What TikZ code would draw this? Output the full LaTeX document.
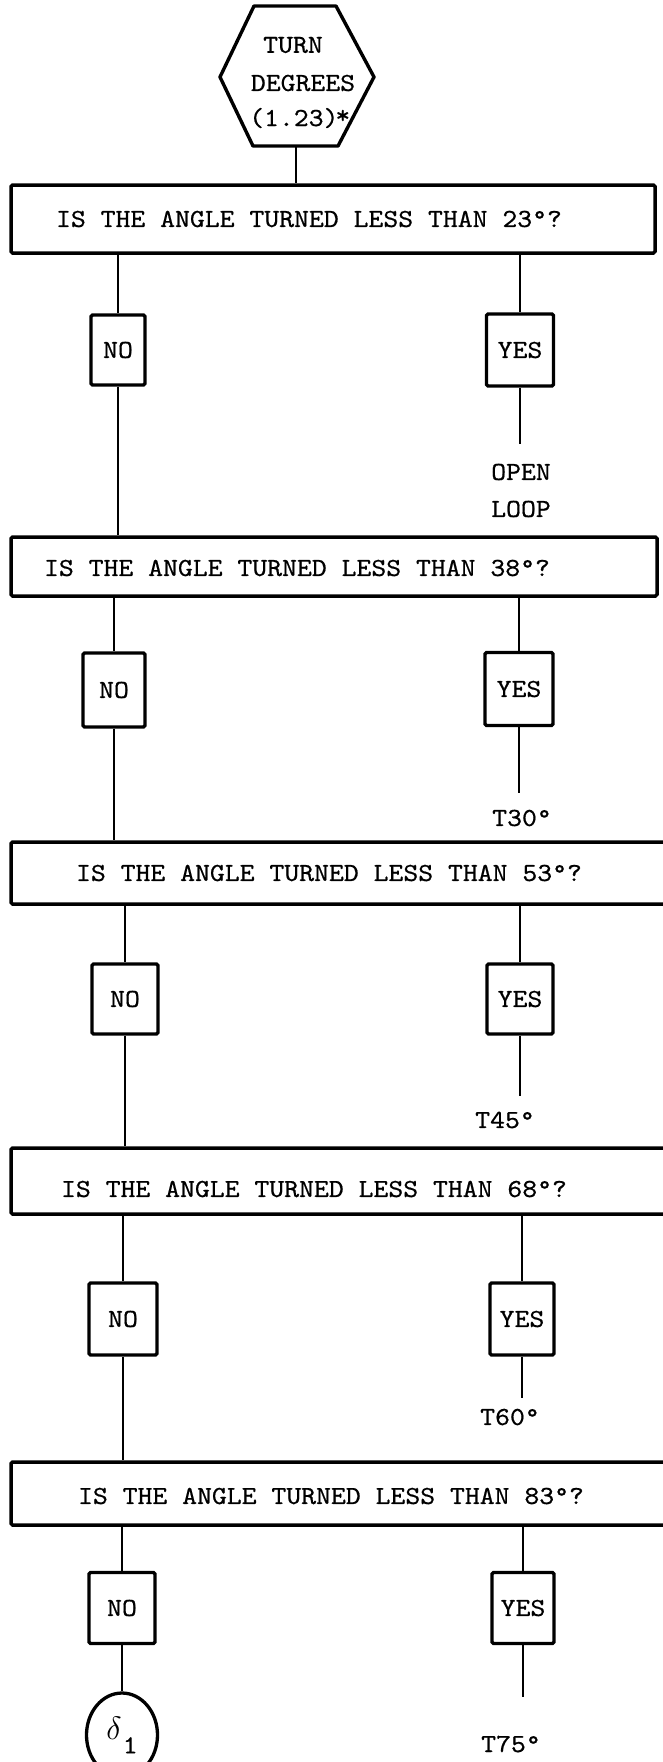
\documentclass[tikz,border=0pt]{standalone}
\usepackage{fontspec}
\usetikzlibrary{shapes.geometric}
\newfontfamily\tw{lmmono10-regular}[Extension=.otf, FakeStretch=1.09, FakeBold=0.6]
\begin{document}
\begin{tikzpicture}[x=1pt,y=-1pt,
  font=\tw\fontsize{26}{30}\selectfont,
  qbox/.style={draw, line width=3.5pt, rounded corners=1.5pt, inner sep=0pt},
  ans/.style={draw, line width=3.3pt, rounded corners=1.5pt, inner sep=0pt},
  txt/.style={inner sep=0pt},
  ln/.style={line width=2.9pt},
  hexline/.style={line width=3.4pt, line join=round}]
\useasboundingbox (0,0) rectangle (663,1762);
\clip (0,0) rectangle (663,1762);
% start hexagon
\draw[hexline] (220,77) -- (254,6) -- (336,6) -- (374,77) -- (338,146) -- (253,146) -- cycle;
\coordinate (hexb) at (296,146);
\node[txt] (h1) at (293,45) {TURN};
\node[txt] (h2) at (303,83) {DEGREES};
\node[txt, anchor=base west] (h3) at (249,126) {(1.23)\kern-0.12em\raisebox{0.1em}{*}};
% question 1
\node[qbox, minimum width=644pt, minimum height=68pt] (q1) at (333,219) {};
\node[txt] (q1t) at (309,219) {IS THE ANGLE TURNED LESS THAN 23°?};
\draw[ln] (hexb) -- (q1.north -| hexb);
\node[ans, minimum width=54pt, minimum height=70pt] (n1) at (118,350) {NO};
\node[ans, minimum width=67pt, minimum height=72pt] (y1) at (520,350) {YES};
\draw[ln] (q1.south -| n1) -- (n1.north);
\draw[ln] (q1.south -| y1) -- (y1.north);
\coordinate (e1) at (520,444);
\draw[ln] (y1.south) -- (e1);
\node[txt] (o1) at (521,472) {OPEN};
\node[txt] (o2) at (521,509) {LOOP};
% question 2
\node[qbox, minimum width=646pt, minimum height=59pt] (q2) at (334,566.5) {};
\node[txt] (q2t) at (297,568) {IS THE ANGLE TURNED LESS THAN 38°?};
\draw[ln] (n1.south) -- (q2.north -| n1);
\node[ans, minimum width=62pt, minimum height=74pt] (n2) at (114,690) {NO};
\node[ans, minimum width=68pt, minimum height=73pt] (y2) at (519,689) {YES};
\draw[ln] (q2.south -| n2) -- (n2.north);
\draw[ln] (q2.south -| y2) -- (y2.north);
\coordinate (e2) at (519,793);
\draw[ln] (y2.south) -- (e2);
\node[txt] (t30) at (522,818) {T30°};
% question 3
\node[qbox, minimum width=664pt, minimum height=62pt] (q3) at (343,873) {};
\node[txt] (q3t) at (329,873) {IS THE ANGLE TURNED LESS THAN 53°?};
\draw[ln] (n2.south) -- (q3.north -| n2);
\node[ans, minimum width=66pt, minimum height=70pt] (n3) at (125,999) {NO};
\node[ans, minimum width=66pt, minimum height=70pt] (y3) at (520,999) {YES};
\draw[ln] (q3.south -| n3) -- (n3.north);
\draw[ln] (q3.south -| y3) -- (y3.north);
\coordinate (e3) at (520,1096);
\draw[ln] (y3.south) -- (e3);
\node[txt] (t45) at (505,1120) {T45°};
% question 4
\node[qbox, minimum width=664pt, minimum height=66pt] (q4) at (343,1181) {};
\node[txt] (q4t) at (314,1189) {IS THE ANGLE TURNED LESS THAN 68°?};
\draw[ln] (n3.south) -- (q4.north -| n3);
\node[ans, minimum width=68pt, minimum height=72pt] (n4) at (123,1319) {NO};
\node[ans, minimum width=64pt, minimum height=72pt] (y4) at (522,1319) {YES};
\draw[ln] (q4.south -| n4) -- (n4.north);
\draw[ln] (q4.south -| y4) -- (y4.north);
\coordinate (e4) at (522,1398);
\draw[ln] (y4.south) -- (e4);
\node[txt] (t60) at (510,1417) {T60°};
% question 5
\node[qbox, minimum width=664pt, minimum height=63pt] (q5) at (343,1493.5) {};
\node[txt] (q5t) at (331,1496) {IS THE ANGLE TURNED LESS THAN 83°?};
\draw[ln] (n4.south) -- (q5.north -| n4);
\node[ans, minimum width=66pt, minimum height=71pt] (n5) at (122,1608) {NO};
\node[ans, minimum width=62pt, minimum height=71pt] (y5) at (523,1608) {YES};
\draw[ln] (q5.south -| n5) -- (n5.north);
\draw[ln] (q5.south -| y5) -- (y5.north);
\coordinate (e5) at (523,1697);
\draw[ln] (y5.south) -- (e5);
\node[txt] (t75) at (511,1744) {T75°};
% connector circle
\node[ellipse, draw, line width=3.3pt, minimum width=71pt, minimum height=84pt, inner sep=0pt] (c) at (122,1735) {\raisebox{0.3em}{\scalebox{1.3}{$\delta$}}\kern0.05em\raisebox{-0.25em}{1}};
\draw[ln] (n5.south) -- (c.north);
\end{tikzpicture}
\end{document}
